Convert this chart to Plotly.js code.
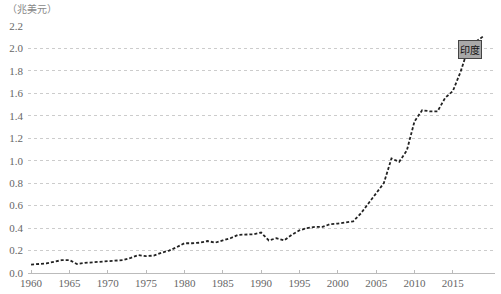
<!DOCTYPE html>
<html><head><meta charset="utf-8">
<script src="https://cdn.plot.ly/plotly-3.0.1.min.js"></script>
<style>html,body{margin:0;padding:0;background:#fff}#c{width:501px;height:294px}</style>
</head><body><div id="c"></div>
<script>
const years = [];
for (let y = 1960; y <= 2019; y++) years.push(y);
const values = [
  0.075,0.08,0.085,0.10,0.115,0.115,0.08,0.09,0.095,0.10,
  0.105,0.11,0.115,0.135,0.16,0.15,0.155,0.18,0.20,0.23,
  0.265,0.265,0.27,0.285,0.27,0.29,0.31,0.34,0.345,0.345,
  0.36,0.29,0.31,0.29,0.34,0.38,0.40,0.41,0.41,0.435,
  0.44,0.45,0.46,0.53,0.62,0.70,0.80,1.02,0.99,1.09,
  1.35,1.45,1.44,1.44,1.56,1.62,1.79,2.00,2.06,2.11
];
const seriesLabel = "印度";
const unitLabel = "（兆美元）";
const yTicks = [0,0.2,0.4,0.6,0.8,1.0,1.2,1.4,1.6,1.8,2.0,2.2];
const xTicks = [1960,1965,1970,1975,1980,1985,1990,1995,2000,2005,2010,2015];

const font = {family: "Liberation Serif", size: 11, color: "#666"};
Plotly.newPlot("c", [{
  x: years, y: values, type: "scatter", mode: "lines",
  line: {color: "#222", width: 1.8, dash: "3px,2px"}, hoverinfo: "skip"
}], {
  width: 501, height: 294,
  margin: {l: 28, r: 6, t: 26, b: 21},
  paper_bgcolor: "#fff", plot_bgcolor: "#fff",
  showlegend: false, font: font,
  xaxis: {range: [1959.6, 2020.5], tickvals: xTicks, ticktext: xTicks.map(String),
    showgrid: false, zeroline: false, showline: true, linecolor: "#bbb", linewidth: 1,
    ticks: "inside", ticklen: 3, tickcolor: "#bbb", tickfont: font},
  yaxis: {range: [0, 2.2], tickvals: yTicks, ticktext: yTicks.map(v => v.toFixed(1)),
    showgrid: true, gridcolor: "#ccc", griddash: "dot", gridwidth: 1,
    zeroline: false, showline: false, ticks: "", tickfont: font, ticklabelstandoff: 4},
  annotations: [
    {xref: "paper", yref: "paper", x: -0.05, y: 1.069, xanchor: "left", yanchor: "middle",
     text: unitLabel, showarrow: false, font: {family: "Noto Sans CJK TC", size: 10, color: "#888"}},
    {x: 2017.2, y: 1.99, text: seriesLabel, showarrow: false,
     bgcolor: "#a8a8a8", bordercolor: "#444", borderwidth: 1, borderpad: 1,
     font: {family: "Noto Sans CJK TC", size: 10, color: "#111"}}
  ]
}, {staticPlot: true});
</script></body></html>
